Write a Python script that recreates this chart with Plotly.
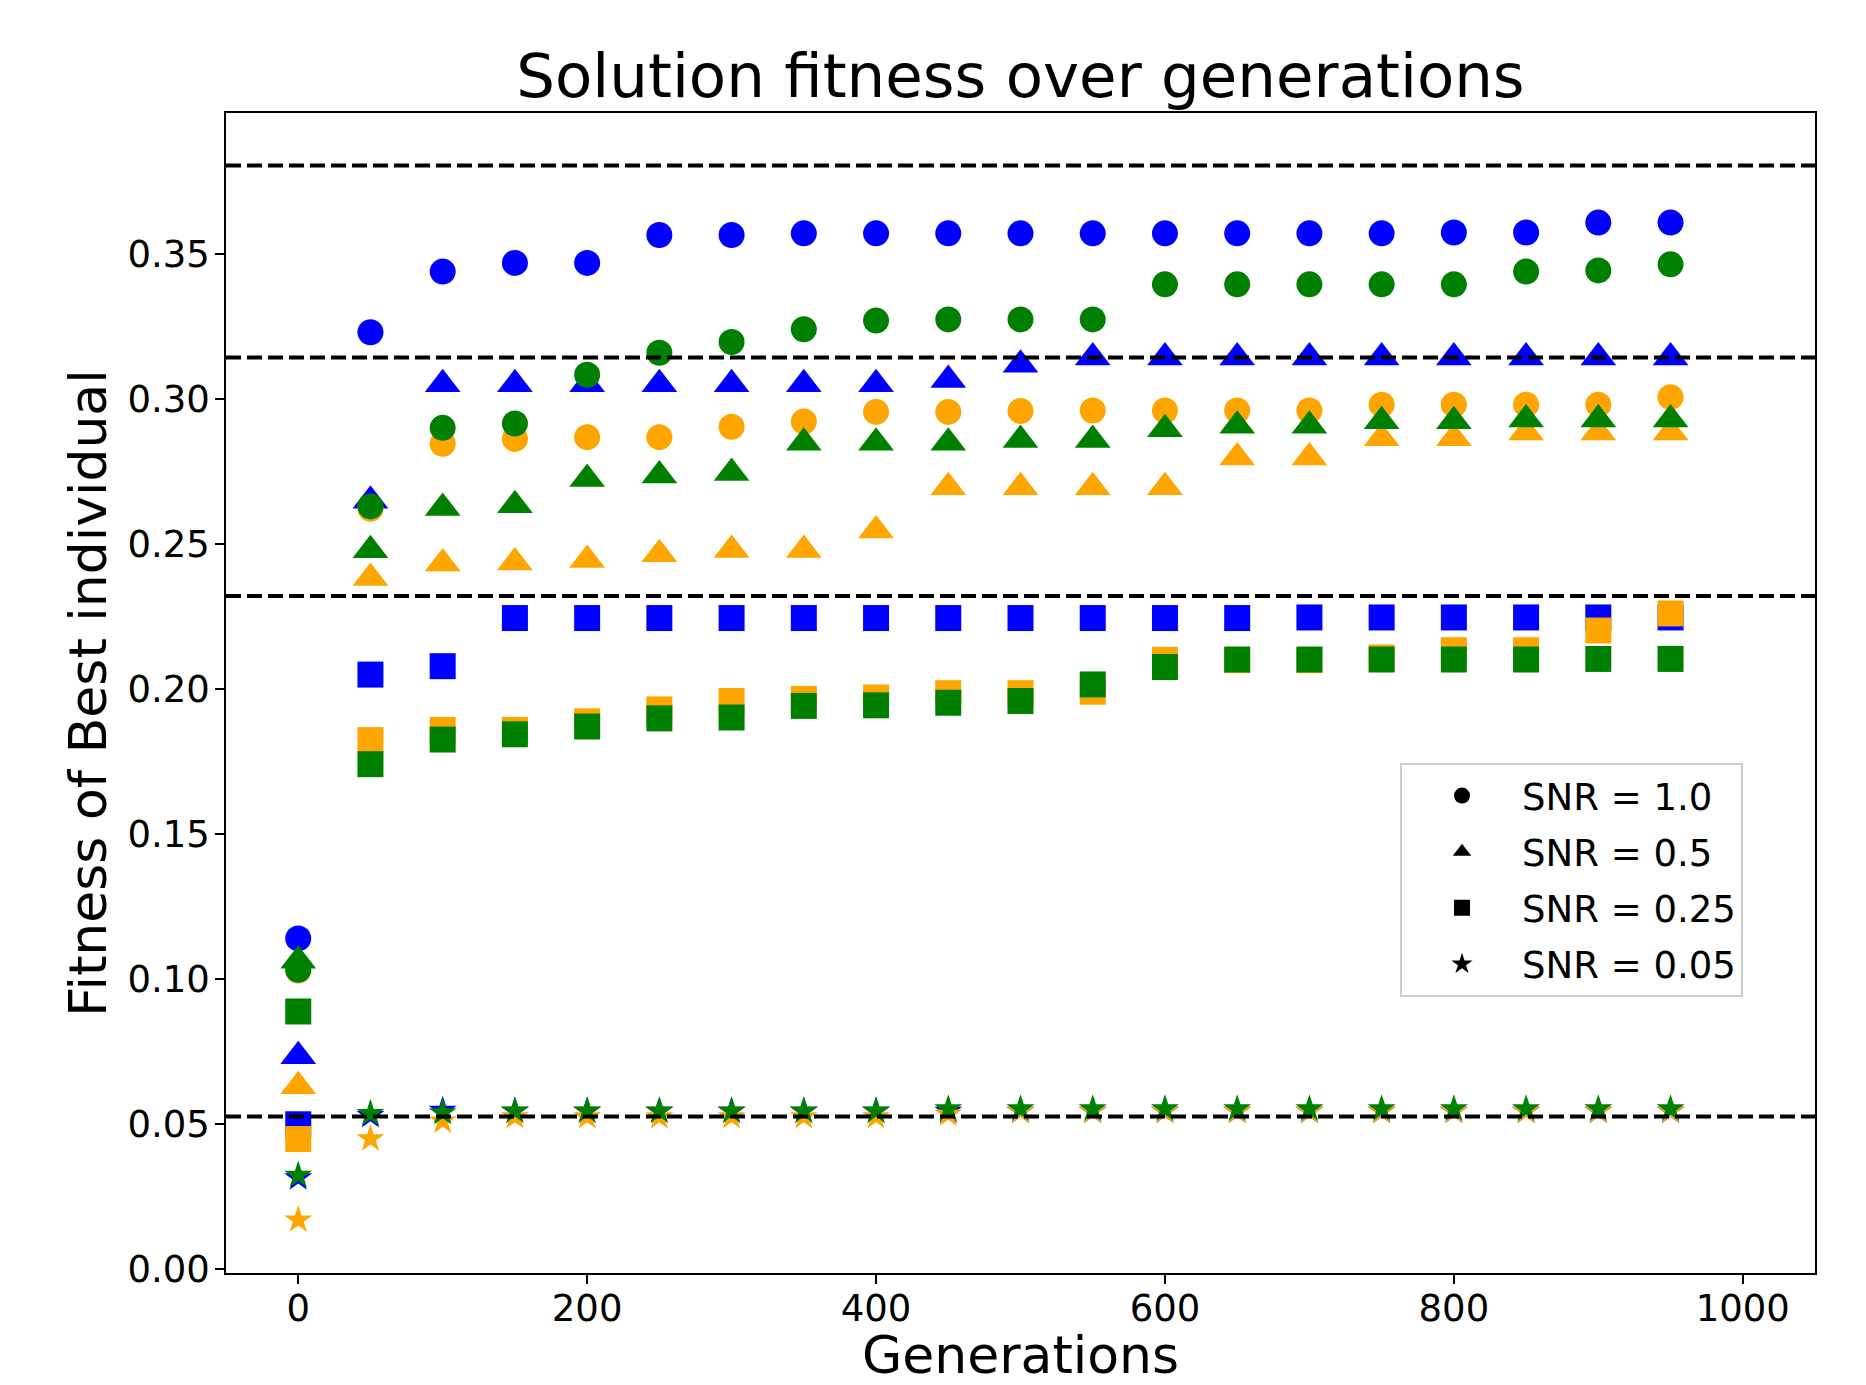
import plotly.graph_objects as go

generations = list(range(0, 1000, 50))

# SNR = 1.0 (circles)
blue_snr_1_0 = [0.1141, 0.3232, 0.3441, 0.3471, 0.3471, 0.3567, 0.3567, 0.3573, 0.3573, 0.3573,
                0.3573, 0.3573, 0.3573, 0.3573, 0.3573, 0.3573, 0.3576, 0.3576, 0.3610, 0.3610]
orange_snr_1_0 = [0.1030, 0.2623, 0.2847, 0.2864, 0.2870, 0.2870, 0.2906, 0.2924, 0.2957, 0.2957,
                  0.2960, 0.2962, 0.2962, 0.2962, 0.2962, 0.2982, 0.2982, 0.2982, 0.2982, 0.3008]
green_snr_1_0 = [0.1033, 0.2631, 0.2902, 0.2917, 0.3085, 0.3161, 0.3198, 0.3242, 0.3272, 0.3276,
                 0.3276, 0.3276, 0.3397, 0.3397, 0.3397, 0.3397, 0.3397, 0.3441, 0.3445, 0.3466]

# SNR = 0.5 (triangles)
blue_snr_0_5 = [0.0735, 0.2651, 0.3052, 0.3052, 0.3052, 0.3052, 0.3052, 0.3052, 0.3052, 0.3067,
                0.3120, 0.3145, 0.3145, 0.3145, 0.3145, 0.3145, 0.3145, 0.3145, 0.3145, 0.3145]
orange_snr_0_5 = [0.0631, 0.2384, 0.2434, 0.2438, 0.2446, 0.2466, 0.2481, 0.2481, 0.2548, 0.2697,
                  0.2697, 0.2697, 0.2697, 0.2800, 0.2800, 0.2866, 0.2866, 0.2886, 0.2886, 0.2886]
green_snr_0_5 = [0.1064, 0.2480, 0.2626, 0.2635, 0.2726, 0.2738, 0.2746, 0.2851, 0.2851, 0.2851,
                 0.2860, 0.2860, 0.2897, 0.2909, 0.2909, 0.2925, 0.2925, 0.2931, 0.2931, 0.2931]

# SNR = 0.25 (squares)
blue_snr_0_25 = [0.0500, 0.2051, 0.2080, 0.2246, 0.2246, 0.2246, 0.2246, 0.2246, 0.2246, 0.2246,
                 0.2246, 0.2246, 0.2246, 0.2246, 0.2248, 0.2248, 0.2248, 0.2248, 0.2248, 0.2248]
orange_snr_0_25 = [0.0449, 0.1825, 0.1860, 0.1860, 0.1890, 0.1931, 0.1960, 0.1967, 0.1972, 0.1987,
                   0.1987, 0.1992, 0.2102, 0.2101, 0.2101, 0.2110, 0.2135, 0.2135, 0.2203, 0.2262]
green_snr_0_25 = [0.0889, 0.1742, 0.1827, 0.1845, 0.1872, 0.1900, 0.1903, 0.1943, 0.1945, 0.1954,
                  0.1960, 0.2017, 0.2077, 0.2103, 0.2103, 0.2103, 0.2103, 0.2103, 0.2105, 0.2105]

# SNR = 0.05 (stars)
blue_snr_0_05 = [0.0315, 0.0530, 0.0548, 0.0545, 0.0545, 0.0545, 0.0545, 0.0545, 0.0545, 0.0545,
                 0.0545, 0.0545, 0.0545, 0.0545, 0.0545, 0.0545, 0.0545, 0.0545, 0.0545, 0.0545]
orange_snr_0_05 = [0.0170, 0.0450, 0.0511, 0.0526, 0.0526, 0.0526, 0.0526, 0.0526, 0.0526, 0.0535,
                   0.0545, 0.0545, 0.0545, 0.0545, 0.0545, 0.0545, 0.0545, 0.0545, 0.0545, 0.0545]
green_snr_0_05 = [0.0324, 0.0537, 0.0540, 0.0546, 0.0546, 0.0546, 0.0546, 0.0546, 0.0546, 0.0553,
                  0.0553, 0.0553, 0.0553, 0.0553, 0.0553, 0.0553, 0.0553, 0.0553, 0.0553, 0.0553]

reference_levels = [0.3807, 0.3145, 0.2322, 0.0527]

snr_labels = ["SNR = 1.0", "SNR = 0.5", "SNR = 0.25", "SNR = 0.05"]
x_ticks = [0, 200, 400, 600, 800, 1000]
y_ticks = [0.00, 0.05, 0.10, 0.15, 0.20, 0.25, 0.30, 0.35]

FONT = "DejaVu Sans"
symbols = ["circle", "triangle-up", "square", "star"]
sizes = [26, 31, 26, 21]

series = {
    "blue": [blue_snr_1_0, blue_snr_0_5, blue_snr_0_25, blue_snr_0_05],
    "orange": [orange_snr_1_0, orange_snr_0_5, orange_snr_0_25, orange_snr_0_05],
    "green": [green_snr_1_0, green_snr_0_5, green_snr_0_25, green_snr_0_05],
}

fig = go.Figure()
for color in ["blue", "orange", "green"]:
    for i, vals in enumerate(series[color]):
        fig.add_trace(go.Scatter(
            x=generations, y=vals, mode="markers", showlegend=False,
            marker=dict(symbol=symbols[i], size=sizes[i], color=color, line=dict(width=0)),
            hoverinfo="x+y",
        ))

# legend entries (black markers)
for i, lab in enumerate(snr_labels):
    fig.add_trace(go.Scatter(
        x=[None], y=[None], mode="markers", name=lab, legendgroup=lab,
        marker=dict(symbol=symbols[i], size=sizes[i], color="black"),
    ))

for lv in reference_levels:
    fig.add_hline(y=lv, line=dict(color="black", width=4, dash="15px,6px"))

# page body has an 8px margin; figure sized to fill the remaining window
W, H = 1858, 1377
L, R, T, B = 218, 51, 105, 112

fig.update_layout(
    width=W, height=H,
    margin=dict(l=L, r=R, t=T, b=B, autoexpand=False),
    paper_bgcolor="white", plot_bgcolor="white",
    font=dict(family=FONT, color="black", size=37),
    title=dict(text="Solution fitness over generations", x=0.5, xref="paper",
               y=1 - 68 / H, yref="container", yanchor="middle",
               font=dict(size=61, family=FONT)),
    legend=dict(x=(1392 - L) / (W - L - R), y=(H - B - 755) / (H - T - B),
                xanchor="left", yanchor="top",
                bgcolor="white", bordercolor="#cccccc", borderwidth=2,
                font=dict(size=37, family=FONT), tracegroupgap=5,
                traceorder="grouped", itemwidth=110),
)
fig.update_xaxes(
    range=[-50, 1050], tickvals=x_ticks, ticktext=[str(v) for v in x_ticks],
    showline=True, linecolor="black", linewidth=1.5, mirror=True,
    ticks="outside", ticklen=9, tickwidth=1.5, tickcolor="black",
    showgrid=False, zeroline=False, tickfont=dict(size=37), ticklabelstandoff=-7,
    automargin=True,
    title=dict(text="Generations", font=dict(size=52), standoff=14),
)
fig.update_yaxes(
    range=[-0.0013, 0.3988], tickvals=y_ticks, ticktext=[f"{v:.2f}" for v in y_ticks],
    showline=True, linecolor="black", linewidth=1.5, mirror=True,
    ticks="outside", ticklen=9, tickwidth=1.5, tickcolor="black",
    showgrid=False, zeroline=False, tickfont=dict(size=37), ticklabelstandoff=-2,
    automargin=False,
    title=dict(text="Fitness of Best individual", font=dict(size=52), standoff=4),
)

fig.write_html("out.html")
